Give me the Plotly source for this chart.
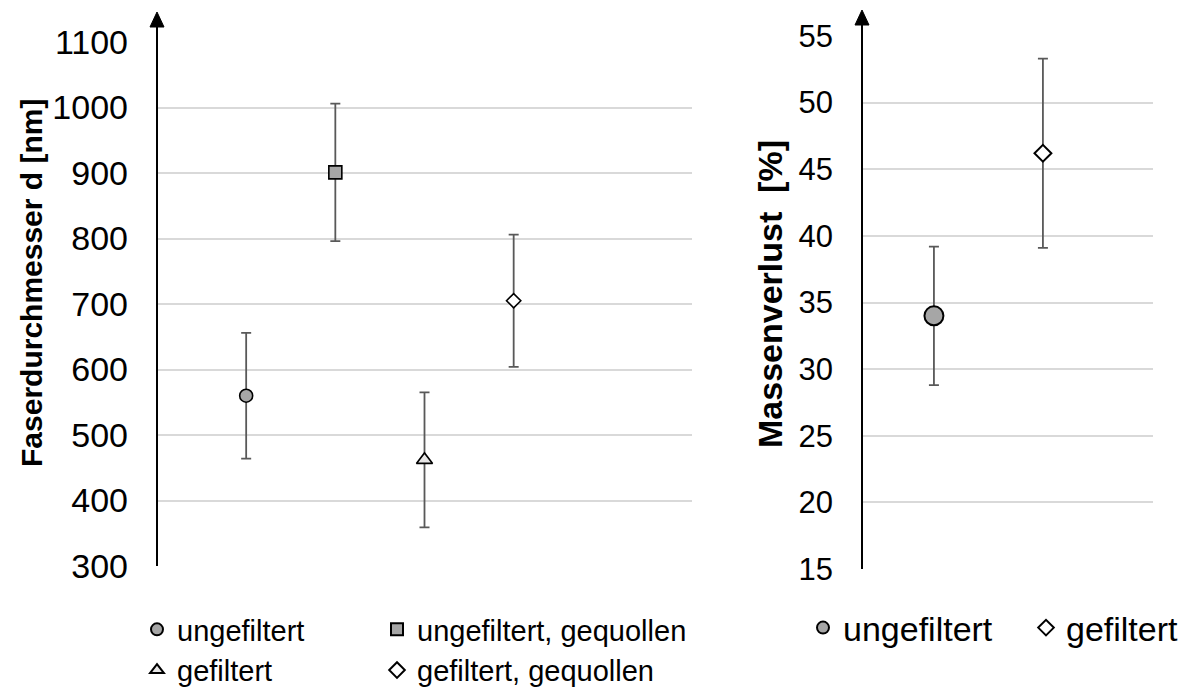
import plotly.graph_objects as go

W, H = 1192, 688

# ---------------- data ----------------
left_names = ["ungefiltert", "ungefiltert, gequollen", "gefiltert", "gefiltert, gequollen"]
left_x = [1, 2, 3, 4]
left_d = [560, 901, 462, 705]          # Faserdurchmesser [nm]
left_err = [96, 105, 103, 101]
left_symbols = ["circle", "square", "triangle-up", "diamond"]
left_fill = ["#a6a6a6", "#a6a6a6", "#e7e6e6", "#ffffff"]
left_sizes = [13, 13, 14, 11]
left_legend = ["legend", "legend2", "legend", "legend2"]

right_names = ["ungefiltert", "gefiltert"]
right_x = [1, 2]
right_m = [34.0, 46.2]                 # Massenverlust [%]
right_err = [5.2, 7.1]
right_symbols = ["circle", "diamond"]
right_fill = ["#a6a6a6", "#ffffff"]
right_sizes = [19, 13]

left_yticks = [300, 400, 500, 600, 700, 800, 900, 1000, 1100]
right_yticks = [15, 20, 25, 30, 35, 40, 45, 50, 55]

FONT = "Liberation Sans, Arial, sans-serif"
ERRCOL = "#595959"


def px_x(p):
    return p / W


def px_y(p):
    return 1 - p / H


fig = go.Figure()

for n, x, y, e, s, f, sz, lg in zip(left_names, left_x, left_d, left_err,
                                     left_symbols, left_fill, left_sizes, left_legend):
    fig.add_trace(go.Scatter(
        x=[x], y=[y], name=n, mode="markers", xaxis="x", yaxis="y", legend=lg,
        marker=dict(symbol=s, size=sz, color=f, line=dict(color="black", width=1.6)),
        error_y=dict(type="data", array=[e], visible=True, color=ERRCOL,
                     thickness=1.8, width=5),
    ))

for n, x, y, e, s, f, sz in zip(right_names, right_x, right_m, right_err,
                                right_symbols, right_fill, right_sizes):
    fig.add_trace(go.Scatter(
        x=[x], y=[y], name=n, mode="markers", xaxis="x2", yaxis="y2", legend="legend3",
        marker=dict(symbol=s, size=sz, color=f, line=dict(color="black", width=2)),
        error_y=dict(type="data", array=[e], visible=True, color=ERRCOL,
                     thickness=1.8, width=5),
    ))

# plot-area geometry (pixels)
L_X0, L_X1, L_YB, L_YT = 157, 692, 566, 42
R_X0, R_X1, R_YB, R_YT = 862, 1153, 569, 36

axis_common = dict(showgrid=False, zeroline=False, showticklabels=False, ticks="",
                   showline=False, fixedrange=True, automargin=False)
yaxis_common = dict(showgrid=True, gridcolor="#d9d9d9", gridwidth=2, zeroline=False,
                    showline=False, ticks="", automargin=False)

legend_common = dict(xanchor="left", yanchor="middle",
                     itemclick=False, itemsizing="constant", bgcolor="rgba(0,0,0,0)")

fig.update_layout(
    width=W, height=H,
    margin=dict(l=0, r=0, t=0, b=0, autoexpand=False),
    paper_bgcolor="white", plot_bgcolor="white",
    showlegend=True,
    xaxis=dict(domain=[px_x(L_X0), px_x(L_X1)], range=[0, 6], anchor="y", **axis_common),
    yaxis=dict(domain=[px_y(L_YB), px_y(L_YT)], range=[300, 1100], tickvals=left_yticks,
               anchor="x", ticklabelstandoff=28,
               tickfont=dict(family=FONT, size=34, color="black"), **yaxis_common),
    xaxis2=dict(domain=[px_x(R_X0), px_x(R_X1)], range=[0.34, 3.01], anchor="y2", **axis_common),
    yaxis2=dict(domain=[px_y(R_YB), px_y(R_YT)], range=[15, 55], tickvals=right_yticks,
                anchor="x2", ticklabelstandoff=28,
                tickfont=dict(family=FONT, size=31, color="black"), **yaxis_common),
    legend=dict(orientation="v", x=px_x(137), y=px_y(650),
                font=dict(family=FONT, size=29, color="black"), **legend_common),
    legend2=dict(orientation="v", x=px_x(377), y=px_y(650),
                 font=dict(family=FONT, size=29, color="black"), **legend_common),
    legend3=dict(orientation="h", x=px_x(803), y=px_y(628), entrywidth=178,
                 font=dict(family=FONT, size=34, color="black"), **legend_common),
)

# axis lines with arrows
shapes = []
for ax_x, yb, tip in [(L_X0, L_YB, 12), (R_X0, R_YB, 10)]:
    shapes.append(dict(type="line", xref="paper", yref="paper",
                       x0=px_x(ax_x), x1=px_x(ax_x), y0=px_y(yb), y1=px_y(tip + 12),
                       line=dict(color="black", width=2)))
    path = "M {} {} L {} {} L {} {} Z".format(
        px_x(ax_x - 7), px_y(tip + 15), px_x(ax_x + 7), px_y(tip + 15), px_x(ax_x), px_y(tip))
    shapes.append(dict(type="path", xref="paper", yref="paper", path=path,
                       fillcolor="black", line=dict(color="black", width=1)))
fig.update_layout(shapes=shapes)

fig.add_annotation(text="<b>Faserdurchmesser d [nm]</b>", textangle=-90, xref="paper", yref="paper",
                   x=px_x(32), y=px_y(283), xanchor="center", yanchor="middle", showarrow=False,
                   font=dict(family=FONT, size=30, color="black"))
fig.add_annotation(text="<b>Massenverlust  [%]</b>", textangle=-90, xref="paper", yref="paper",
                   x=px_x(770), y=px_y(294), xanchor="center", yanchor="middle", showarrow=False,
                   font=dict(family=FONT, size=34, color="black"))

fig.write_html("out.html")
